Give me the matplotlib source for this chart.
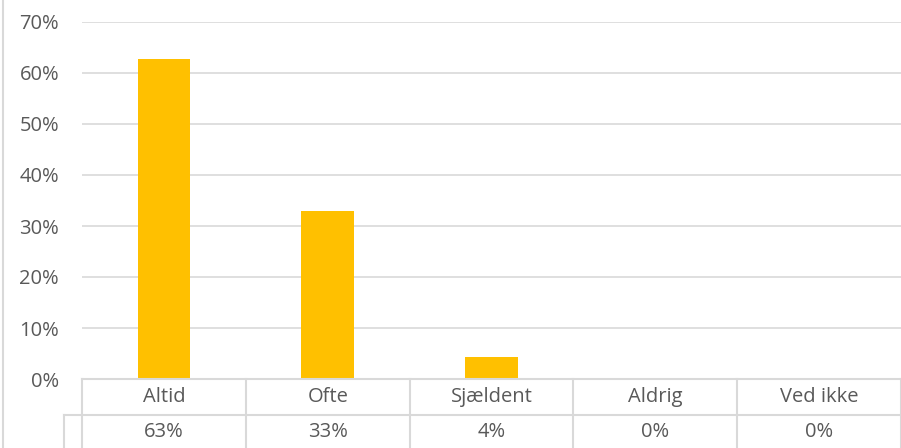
import matplotlib

matplotlib.use("Agg")
import matplotlib.pyplot as plt
from matplotlib.ticker import FuncFormatter, MultipleLocator

categories = ["Altid", "Ofte", "Sjældent", "Aldrig", "Ved ikke"]
shares = [0.628, 0.329, 0.043, 0.0, 0.0]
table_labels = ["63%", "33%", "4%", "0%", "0%"]

W, H = 901, 448
TEXT = "#595959"
LINE = "#d9d9d9"
FS = 14.5

plt.rcParams["font.family"] = ["Open Sans", "DejaVu Sans"]

fig = plt.figure(figsize=(W / 100, H / 100), dpi=100)


def px_box(x0, y0, x1, y1):
    # pixel box (top-left origin) -> figure fraction rect
    return [x0 / W, 1 - y1 / H, (x1 - x0) / W, (y1 - y0) / H]


ax = fig.add_axes(px_box(82, 22, 901, 379))
x = range(len(categories))
ax.bar(x, shares, width=0.32, color="#ffc000", zorder=3)
ax.set_xlim(-0.5, len(categories) - 0.5)
ax.set_ylim(0, 0.7)
ax.yaxis.set_major_locator(MultipleLocator(0.1))
ax.yaxis.set_major_formatter(FuncFormatter(lambda v, _: f"{v * 100:.0f}%"))
ax.grid(axis="y", color=LINE, linewidth=1.2, zorder=0)
ax.set_xticks([])
for side in ["top", "right", "left", "bottom"]:
    ax.spines[side].set_visible(False)
ax.tick_params(axis="y", length=0, pad=16.5, labelsize=FS, labelcolor=TEXT)

# data table below the plot
tab = fig.add_axes(px_box(82, 379, 901, 448))
tab.set_xlim(-0.5, len(categories) - 0.5)
tab.set_ylim(0, 69)
tab.axis("off")
lw = 1.5
split = 33  # row boundary, pixels from the bottom
tab.plot([-0.5, len(categories) - 0.5], [69, 69], color=LINE, lw=lw, clip_on=False)
tab.plot([-0.61, len(categories) - 0.5], [split, split], color=LINE, lw=lw, clip_on=False)
tab.plot([-0.61, -0.61], [0, split], color=LINE, lw=lw, clip_on=False)
for i in range(len(categories) + 1):
    tab.plot([i - 0.5, i - 0.5], [0, 69], color=LINE, lw=lw, clip_on=False)
for i, (cat, lab) in enumerate(zip(categories, table_labels)):
    tab.text(i, 51, cat, ha="center", va="center", fontsize=FS, color=TEXT)
    tab.text(i, 16, lab, ha="center", va="center", fontsize=FS, color=TEXT)

# outer chart border on the left
fig.add_artist(plt.Line2D([2.5 / W, 2.5 / W], [0, 1], color=LINE, lw=1.5))

fig.savefig("out.png", dpi=100)
